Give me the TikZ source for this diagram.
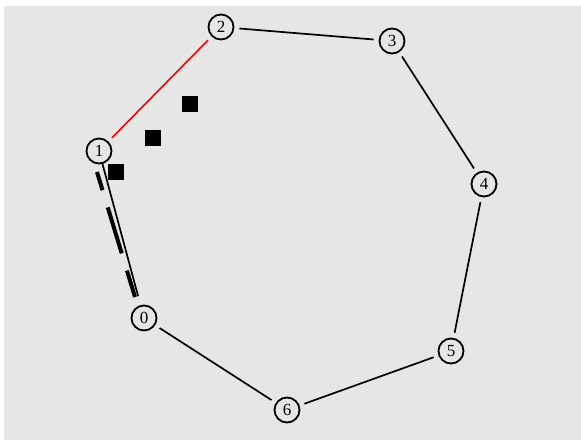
\documentclass[tikz,border=0pt]{standalone}
\usepackage{fontspec}
\setmainfont{Liberation Serif}
\definecolor{bggray}{HTML}{E6E6E6}
\tikzset{
  vtx/.style={circle, draw=black, line width=1.8pt, minimum size=25pt, inner sep=0pt, outer sep=6pt, font=\fontsize{17}{17}\selectfont},
  edge/.style={draw=black, line width=1.7pt},
  rededge/.style={draw=red, line width=1.6pt},
  thickdash/.style={draw=black, line width=4pt, dash pattern=on 48pt off 18pt, dash phase=29pt},
  blk/.style={fill=black, minimum size=15.5pt, inner sep=0pt, draw=none}
}
\begin{document}
\begin{tikzpicture}[x=1pt, y=-1pt]
\useasboundingbox (0,0) rectangle (581,441);
\fill[bggray] (4,6) rectangle (581,440);
\node[vtx] (n0) at (144,318) {0};
\node[vtx] (n1) at (99,151) {1};
\node[vtx] (n2) at (221,27) {2};
\node[vtx] (n3) at (392,41) {3};
\node[vtx] (n4) at (484,184) {4};
\node[vtx] (n5) at (451,351) {5};
\node[vtx] (n6) at (287,410) {6};
\draw[rededge] (n1) -- (n2);
\draw[edge] (n2) -- (n3);
\draw[edge] (n3) -- (n4);
\draw[edge] (n4) -- (n5);
\draw[edge] (n5) -- (n6);
\draw[edge] (n6) -- (n0);
\draw[edge, shorten <=-6pt, shorten >=4pt] (n1) -- (n0);
\coordinate (d1) at (97,172);
\coordinate (d0) at (135,297);
\draw[thickdash] (d1) -- (d0);
\node[blk] (s1) at (190,104) {};
\node[blk] (s2) at (153,138) {};
\node[blk] (s3) at (116,172) {};
\end{tikzpicture}
\end{document}
